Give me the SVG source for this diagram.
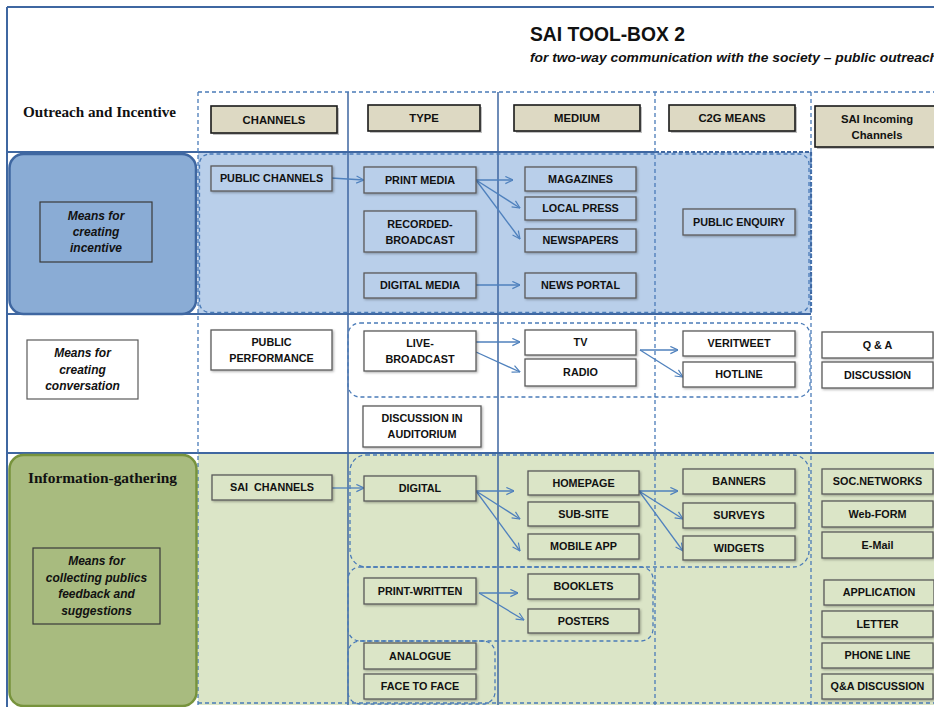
<svg xmlns="http://www.w3.org/2000/svg" width="934" height="707" viewBox="0 0 934 707">
  <defs>
    <style>
      .lbl{font-family:"Liberation Sans",Arial,sans-serif;font-weight:bold;font-size:10.8px;fill:#111;text-anchor:middle}
      .hdr{font-family:"Liberation Sans",Arial,sans-serif;font-weight:bold;font-size:11.3px;fill:#111;text-anchor:middle}
      .it{font-family:"Liberation Sans",Arial,sans-serif;font-weight:bold;font-style:italic;font-size:12px;fill:#111;text-anchor:middle}
      .serif{font-family:"Liberation Serif","Times New Roman",serif;font-weight:bold;font-size:15px;fill:#111}
      .box{stroke:#5a5a5a;stroke-width:1.3;filter:url(#sh)}
      .blue{fill:#b9cfea}
      .green{fill:#dbe5c7}
      .white{fill:#fff}
      .hbox{fill:#ddd9c3;stroke:#1a1a1a;stroke-width:1.6}
      .hsh{fill:#8c8c8c;opacity:.55}
      .solid{stroke:#3f67a1;fill:none}
      .dash{stroke:#4a7bb8;stroke-width:1.3;stroke-dasharray:4 3;fill:none}
      .dashbold{stroke:#3f67a1;stroke-width:2.2;stroke-dasharray:4 2;fill:none}
      .conn path{stroke:#4f81bd;stroke-width:1.3;fill:none;marker-end:url(#arr)}
    </style>
    <filter id="sh" x="-10%" y="-20%" width="130%" height="150%">
      <feDropShadow dx="1.2" dy="1.2" stdDeviation="0.8" flood-color="#000" flood-opacity="0.3"/>
    </filter>
    <marker id="arr" viewBox="0 0 10 10" refX="9.5" refY="5" markerWidth="9" markerHeight="9" orient="auto" markerUnits="userSpaceOnUse">
      <path d="M1,1 L9.5,5 L1,9" fill="none" stroke="#4f81bd" stroke-width="1.3"/>
    </marker>
  </defs>

  <rect width="934" height="707" fill="#fff"/>

  <!-- title -->
  <g id="title">
    <text x="530" y="41" font-family="Liberation Sans, Arial, sans-serif" font-weight="bold" font-size="21" fill="#111" textLength="155" lengthAdjust="spacingAndGlyphs">SAI TOOL-BOX 2</text>
    <text x="530" y="62" font-family="Liberation Sans, Arial, sans-serif" font-weight="bold" font-style="italic" font-size="13.5" fill="#111" textLength="408" lengthAdjust="spacingAndGlyphs">for two-way communication with the society – public outreach</text>
  </g>

  <!-- row bands -->
  <g id="bands">
    <rect x="198" y="152" width="613" height="162" fill="#b9cfea"/>
    <rect x="198" y="453" width="736" height="252" fill="#dbe5c7"/>
  </g>

  <!-- grid -->
  <g id="grid">
    <path class="solid" stroke-width="2" d="M7,7 H934 M7,7 V707"/>
    <path class="solid" stroke-width="2.2" d="M7,152 H655 M7,314 H811 M7,453 H934"/>
    <path class="dashbold" d="M655,152 H811 M811,152 V314"/>
    <path class="solid" stroke-width="1.5" d="M348,92 V705 M498,92 V705"/>
    <path class="dash" d="M198,92 H934 M198,92 V705 M655,92 V705 M811,92 V705 M198,703 H934"/>
  </g>

  <!-- row panels -->
  <g id="panel-incentive">
    <rect x="9.5" y="154" width="186.5" height="160" rx="14" fill="#8aacd5" stroke="#3f67a1" stroke-width="2.5"/>
  </g>
  <g id="panel-gathering">
    <rect x="9.5" y="455" width="187" height="251" rx="14" fill="#a8bb7f" stroke="#77933c" stroke-width="2.5"/>
  </g>

  <!-- dashed groupings -->
  <g id="groups">
    <rect class="dash" x="199.5" y="154" width="609.5" height="158.5" rx="10"/>
    <rect class="dash" x="348" y="323" width="462" height="74" rx="12"/>
    <rect class="dash" x="350" y="455" width="459" height="112" rx="16"/>
    <rect class="dash" x="348" y="567" width="305" height="74" rx="12"/>
    <rect class="dash" x="348" y="641" width="147" height="63" rx="12"/>
  </g>

  <!-- header cells -->
  <g id="h-outreach"><text class="serif" x="23" y="117" textLength="153" lengthAdjust="spacingAndGlyphs">Outreach and Incentive</text></g>
  <g id="h-channels"><rect class="hsh" x="213" y="108" width="126" height="27"/><rect class="hbox" x="211" y="106" width="126" height="27"/><text class="hdr" x="274" y="123.5">CHANNELS</text></g>
  <g id="h-type"><rect class="hsh" x="370" y="107" width="112" height="26"/><rect class="hbox" x="368" y="105" width="112" height="26"/><text class="hdr" x="424" y="122">TYPE</text></g>
  <g id="h-medium"><rect class="hsh" x="516" y="107" width="126" height="26"/><rect class="hbox" x="514" y="105" width="126" height="26"/><text class="hdr" x="577" y="122">MEDIUM</text></g>
  <g id="h-c2g"><rect class="hsh" x="671" y="107" width="126" height="26"/><rect class="hbox" x="669" y="105" width="126" height="26"/><text class="hdr" x="732" y="122">C2G MEANS</text></g>
  <g id="h-incoming"><rect class="hsh" x="817" y="108" width="125" height="41"/><rect class="hbox" x="815" y="106" width="125" height="41"/><text class="hdr" x="877" y="122.5" font-size="12">SAI Incoming</text><text class="hdr" x="877" y="138.5" font-size="12">Channels</text></g>

  <!-- connectors -->
  <g id="connectors" class="conn">
    <path d="M331,178 L364,180"/>
    <path d="M476,180 L513,180"/>
    <path d="M476,180 L520,208"/>
    <path d="M476,180 L520,239"/>
    <path d="M476,285 L520,285"/>
    <path d="M476,342 L520,342"/>
    <path d="M476,352 L520,372"/>
    <path d="M640,350 L678,350"/>
    <path d="M640,350 L683,377"/>
    <path d="M332,488 L364,488"/>
    <path d="M476,491 L514,491"/>
    <path d="M476,491 L520,519"/>
    <path d="M476,491 L520,551"/>
    <path d="M639,491 L678,491"/>
    <path d="M639,491 L683,519"/>
    <path d="M639,491 L683,551"/>
    <path d="M479,593 L518,593"/>
    <path d="M479,593 L524,620"/>
  </g>

  <!-- incentive row -->
  <g id="n-means-incentive"><rect x="40" y="202" width="112" height="60" fill="#8aacd5" stroke="#3a3a3a" stroke-width="1.2"/><text class="it" x="96" y="220">Means for</text><text class="it" x="96" y="236">creating</text><text class="it" x="96" y="252">incentive</text></g>
  <g id="n-public-channels"><rect class="box blue" x="211" y="166" width="121" height="25"/><text class="lbl" x="271.5" y="182.4">PUBLIC CHANNELS</text></g>
  <g id="n-print-media"><rect class="box blue" x="364" y="167" width="112" height="26"/><text class="lbl" x="420" y="184">PRINT MEDIA</text></g>
  <g id="n-recorded"><rect class="box blue" x="364" y="211" width="112" height="41"/><text class="lbl" x="420" y="228">RECORDED-</text><text class="lbl" x="420" y="244">BROADCAST</text></g>
  <g id="n-digital-media"><rect class="box blue" x="364" y="273" width="112" height="25"/><text class="lbl" x="420" y="289.4">DIGITAL MEDIA</text></g>
  <g id="n-magazines"><rect class="box blue" x="525" y="167" width="111" height="24"/><text class="lbl" x="580.5" y="183">MAGAZINES</text></g>
  <g id="n-local-press"><rect class="box blue" x="525" y="197" width="111" height="23"/><text class="lbl" x="580.5" y="212.4">LOCAL PRESS</text></g>
  <g id="n-newspapers"><rect class="box blue" x="525" y="229" width="111" height="23"/><text class="lbl" x="580.5" y="244.4">NEWSPAPERS</text></g>
  <g id="n-news-portal"><rect class="box blue" x="525" y="273" width="111" height="25"/><text class="lbl" x="580.5" y="289.4">NEWS PORTAL</text></g>
  <g id="n-public-enquiry"><rect class="box blue" x="683" y="209" width="112" height="26"/><text class="lbl" x="739" y="226">PUBLIC ENQUIRY</text></g>

  <!-- conversation row -->
  <g id="n-means-conversation"><rect x="27" y="340" width="111" height="59" fill="#fff" stroke="#5a5a5a" stroke-width="1.2"/><text class="it" x="82.5" y="357">Means for</text><text class="it" x="82.5" y="374">creating</text><text class="it" x="82.5" y="390">conversation</text></g>
  <g id="n-public-performance"><rect class="box white" x="211" y="330" width="121" height="40"/><text class="lbl" x="271.5" y="346">PUBLIC</text><text class="lbl" x="271.5" y="362">PERFORMANCE</text></g>
  <g id="n-live-broadcast"><rect class="box white" x="364" y="331" width="112" height="40"/><text class="lbl" x="420" y="347">LIVE-</text><text class="lbl" x="420" y="363">BROADCAST</text></g>
  <g id="n-auditorium"><rect class="box white" x="363" y="406" width="118" height="41"/><text class="lbl" x="422" y="422">DISCUSSION IN</text><text class="lbl" x="422" y="438">AUDITORIUM</text></g>
  <g id="n-tv"><rect class="box white" x="525" y="330" width="111" height="25"/><text class="lbl" x="580.5" y="346.4">TV</text></g>
  <g id="n-radio"><rect class="box white" x="525" y="359" width="111" height="27"/><text class="lbl" x="580.5" y="376.4">RADIO</text></g>
  <g id="n-veritweet"><rect class="box white" x="683" y="331" width="112" height="25"/><text class="lbl" x="739" y="347.4">VERITWEET</text></g>
  <g id="n-hotline"><rect class="box white" x="683" y="362" width="112" height="25"/><text class="lbl" x="739" y="378.4">HOTLINE</text></g>
  <g id="n-qa"><rect class="box white" x="822" y="332" width="111" height="26"/><text class="lbl" x="877.5" y="349">Q &amp; A</text></g>
  <g id="n-discussion"><rect class="box white" x="822" y="362" width="111" height="26"/><text class="lbl" x="877.5" y="379">DISCUSSION</text></g>

  <!-- information-gathering row -->
  <g id="h-gathering"><text class="serif" x="28" y="483" textLength="149" lengthAdjust="spacingAndGlyphs">Information-gathering</text></g>
  <g id="n-means-feedback"><rect x="33" y="548" width="127" height="76" fill="#a8bb7f" stroke="#3a3a3a" stroke-width="1.2"/><text class="it" x="96.5" y="565">Means for</text><text class="it" x="96.5" y="582">collecting publics</text><text class="it" x="96.5" y="598">feedback and</text><text class="it" x="96.5" y="615">suggestions</text></g>
  <g id="n-sai-channels"><rect class="box green" x="212" y="475" width="120" height="25"/><text class="lbl" x="272" y="491.4" style="white-space:pre">SAI  CHANNELS</text></g>
  <g id="n-digital"><rect class="box green" x="364" y="476" width="112" height="25"/><text class="lbl" x="420" y="492.4">DIGITAL</text></g>
  <g id="n-print-written"><rect class="box green" x="364" y="578" width="112" height="26"/><text class="lbl" x="420" y="595">PRINT-WRITTEN</text></g>
  <g id="n-analogue"><rect class="box green" x="364" y="643" width="112" height="26"/><text class="lbl" x="420" y="660">ANALOGUE</text></g>
  <g id="n-face"><rect class="box green" x="364" y="674" width="112" height="25"/><text class="lbl" x="420" y="690.4">FACE TO FACE</text></g>
  <g id="n-homepage"><rect class="box green" x="528" y="471" width="111" height="24"/><text class="lbl" x="583.5" y="487">HOMEPAGE</text></g>
  <g id="n-sub-site"><rect class="box green" x="528" y="502" width="111" height="24"/><text class="lbl" x="583.5" y="518">SUB-SITE</text></g>
  <g id="n-mobile-app"><rect class="box green" x="528" y="534" width="111" height="25"/><text class="lbl" x="583.5" y="550.4">MOBILE APP</text></g>
  <g id="n-booklets"><rect class="box green" x="528" y="574" width="111" height="25"/><text class="lbl" x="583.5" y="590.4">BOOKLETS</text></g>
  <g id="n-posters"><rect class="box green" x="528" y="609" width="111" height="24"/><text class="lbl" x="583.5" y="625">POSTERS</text></g>
  <g id="n-banners"><rect class="box green" x="683" y="469" width="112" height="25"/><text class="lbl" x="739" y="485.4">BANNERS</text></g>
  <g id="n-surveys"><rect class="box green" x="683" y="503" width="112" height="25"/><text class="lbl" x="739" y="519.4">SURVEYS</text></g>
  <g id="n-widgets"><rect class="box green" x="683" y="536" width="112" height="24"/><text class="lbl" x="739" y="552">WIDGETS</text></g>
  <g id="n-soc-networks"><rect class="box green" x="822" y="469" width="111" height="25"/><text class="lbl" x="877.5" y="485.4">SOC.NETWORKS</text></g>
  <g id="n-web-form"><rect class="box green" x="822" y="501" width="111" height="26"/><text class="lbl" x="877.5" y="518">Web-FORM</text></g>
  <g id="n-email"><rect class="box green" x="822" y="532" width="111" height="26"/><text class="lbl" x="877.5" y="549">E-Mail</text></g>
  <g id="n-application"><rect class="box green" x="824" y="580" width="110" height="25"/><text class="lbl" x="879" y="596.4">APPLICATION</text></g>
  <g id="n-letter"><rect class="box green" x="822" y="611" width="111" height="26"/><text class="lbl" x="877.5" y="628">LETTER</text></g>
  <g id="n-phone-line"><rect class="box green" x="822" y="643" width="111" height="25"/><text class="lbl" x="877.5" y="659.4">PHONE LINE</text></g>
  <g id="n-qa-discussion"><rect class="box green" x="822" y="674" width="111" height="25"/><text class="lbl" x="877.5" y="690.4">Q&amp;A DISCUSSION</text></g>
</svg>
